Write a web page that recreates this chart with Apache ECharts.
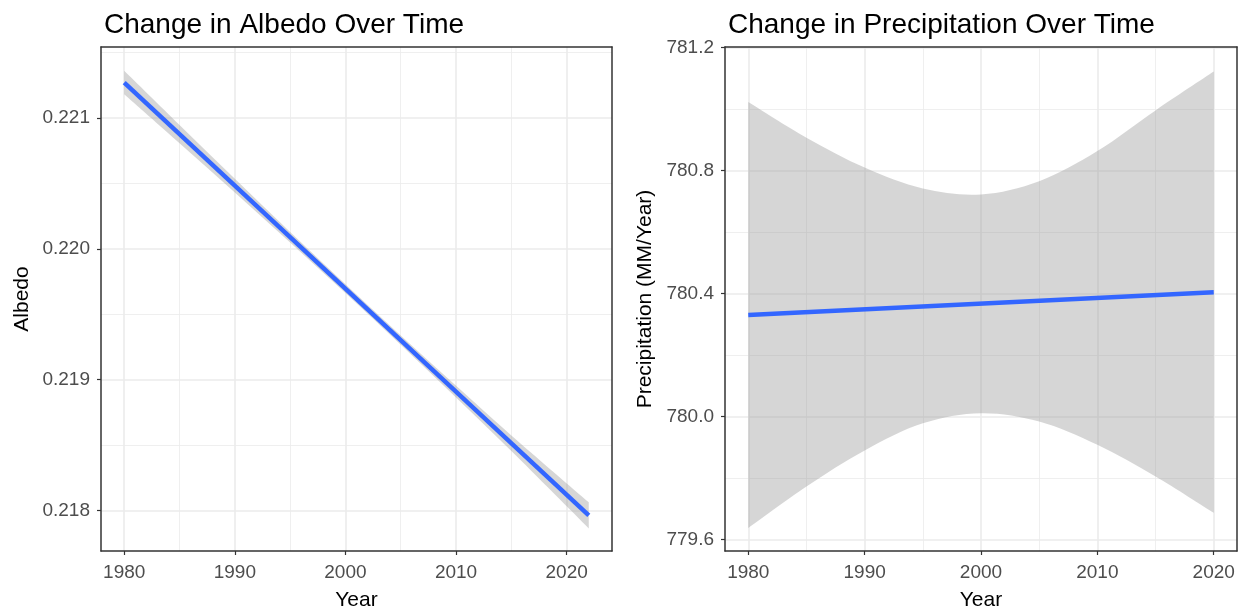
<!DOCTYPE html>
<html>
<head>
<meta charset="utf-8">
<script src="https://cdn.jsdelivr.net/npm/echarts@6/dist/echarts.min.js"></script>
<style>
    html, body { margin: 0; padding: 0; background: #fff; }
    #chart { width: 1244px; height: 609px; }
</style>
</head>
<body>
<div id="chart"></div>
<script>
// left panel: albedo
var albedoLineYears = [1980, 2022];
var albedoLine = [0.221271, 0.217962];
var albedoBandYears = [1980, 1985, 1990, 1995, 2000, 2005, 2010, 2015, 2022];
var albedoUpper = [0.221361, 0.220947, 0.220535, 0.220129, 0.219728, 0.219336, 0.218952, 0.218573, 0.218062];
var albedoLower = [0.221181, 0.220807, 0.220431, 0.220049, 0.219662, 0.219266, 0.218862, 0.218453, 0.217862];
var albedoTicks = [0.218, 0.219, 0.220, 0.221];
var albedoMinor = [0.2185, 0.2195, 0.2205, 0.2215];

// right panel: precipitation
var precipLineYears = [1980, 2020];
var precipLine = [780.330, 780.404];
var precipBandYears = [1980, 1985, 1990, 1995, 2000, 2005, 2010, 2015, 2020];
var precipUpper = [781.022, 780.906, 780.809, 780.741, 780.722, 780.765, 780.863, 780.995, 781.121];
var precipLower = [779.638, 779.773, 779.890, 779.978, 780.011, 779.984, 779.908, 779.805, 779.687];
var precipTicks = [779.6, 780.0, 780.4, 780.8, 781.2];
var precipMinor = [779.8, 780.2, 780.6, 781.0];

var yearTicks = [1980, 1990, 2000, 2010, 2020];
var yearMinor = [1985, 1995, 2005, 2015];

(function () {
    var mychart = echarts.init(document.getElementById('chart'));
    var font = 'Liberation Sans, Arial, sans-serif';
    var gridColor = '#EBEBEB';
    var border = { show: true, lineStyle: { color: '#333', width: 1.5 } };

    function pairs(xs, ys) {
        return xs.map(function (x, i) { return [x, ys[i]]; });
    }

    function mainX(gridIndex, min, max) {
        return {
            type: 'value', gridIndex: gridIndex, min: min, max: max,
            name: 'Year', nameLocation: 'middle', nameGap: 39,
            nameTextStyle: { color: '#000', fontSize: 21, fontFamily: font },
            axisLine: border,
            axisTick: { show: true, length: 4, customValues: yearTicks, lineStyle: { color: '#333', width: 1.2 } },
            axisLabel: {
                customValues: yearTicks, color: '#4D4D4D', fontSize: 19, fontFamily: font, margin: 12,
                formatter: function (v) { return String(v); }
            },
            splitLine: { show: true, lineStyle: { color: gridColor, width: 1.6 } }
        };
    }
    function minorX(gridIndex, min, max) {
        return {
            type: 'value', gridIndex: gridIndex, min: min, max: max, position: 'top',
            axisLine: border,
            axisTick: { show: false, customValues: yearMinor },
            axisLabel: { show: false },
            splitLine: { show: true, lineStyle: { color: gridColor, width: 0.8 } }
        };
    }
    function mainY(gridIndex, min, max, name, ticks, digits, gap) {
        return {
            type: 'value', gridIndex: gridIndex, min: min, max: max,
            name: name, nameLocation: 'middle', nameGap: gap, nameRotate: 90,
            nameTextStyle: { color: '#000', fontSize: 21, fontFamily: font },
            axisLine: border,
            axisTick: { show: true, length: 4, customValues: ticks, lineStyle: { color: '#333', width: 1.2 } },
            axisLabel: {
                customValues: ticks, color: '#4D4D4D', fontSize: 19, fontFamily: font, margin: 11,
                formatter: function (v) { return v.toFixed(digits); }
            },
            splitLine: { show: true, lineStyle: { color: gridColor, width: 1.6 } }
        };
    }
    function minorY(gridIndex, min, max, minor) {
        return {
            type: 'value', gridIndex: gridIndex, min: min, max: max, position: 'right',
            axisLine: border,
            axisTick: { show: false, customValues: minor },
            axisLabel: { show: false },
            splitLine: { show: true, lineStyle: { color: gridColor, width: 0.8 } }
        };
    }

    // catmull-rom curve through pixel points, as svg path commands
    function curve(pts) {
        var d = '';
        for (var i = 0; i < pts.length - 1; i++) {
            var p0 = pts[Math.max(i - 1, 0)], p1 = pts[i], p2 = pts[i + 1], p3 = pts[Math.min(i + 2, pts.length - 1)];
            var c1 = [p1[0] + (p2[0] - p0[0]) / 6, p1[1] + (p2[1] - p0[1]) / 6];
            var c2 = [p2[0] - (p3[0] - p1[0]) / 6, p2[1] - (p3[1] - p1[1]) / 6];
            d += ' C' + c1[0] + ',' + c1[1] + ' ' + c2[0] + ',' + c2[1] + ' ' + p2[0] + ',' + p2[1];
        }
        return d;
    }

    // confidence band, points taken through the axes
    function bandSeries(xi, yi, years, hi, lo) {
        return {
            type: 'custom', xAxisIndex: xi, yAxisIndex: yi, silent: true, z: 2,
            data: years.map(function (y, i) { return [y, lo[i], hi[i]]; }),
            encode: { x: 0, y: [1, 2] },
            renderItem: function (params, api) {
                if (params.dataIndex !== 0) return;
                var top = years.map(function (y, i) { return api.coord([y, hi[i]]); });
                var bottom = years.map(function (y, i) { return api.coord([y, lo[i]]); }).reverse();
                var d = 'M' + top[0][0] + ',' + top[0][1] + curve(top) +
                    ' L' + bottom[0][0] + ',' + bottom[0][1] + curve(bottom) + ' Z';
                return {
                    type: 'path',
                    shape: { pathData: d },
                    style: { fill: 'rgba(153,153,153,0.4)', stroke: 'none' }
                };
            }
        };
    }
    function fitSeries(xi, yi, years, vals) {
        return {
            type: 'line', xAxisIndex: xi, yAxisIndex: yi, data: pairs(years, vals),
            symbol: 'none', lineStyle: { color: '#3366FF', width: 4.5 }, z: 4, silent: true
        };
    }

    var option = {
        animation: false,
        backgroundColor: '#fff',
        title: [
            { text: 'Change in Albedo Over Time', left: 99, top: 6,
              textStyle: { fontSize: 28, fontWeight: 'normal', color: '#000', fontFamily: font } },
            { text: 'Change in Precipitation Over Time', left: 723, top: 6,
              textStyle: { fontSize: 28, fontWeight: 'normal', color: '#000', fontFamily: font } }
        ],
        grid: [
            { left: 101, top: 47, width: 511, height: 504, outerBoundsMode: 'none' },
            { left: 725, top: 47, width: 512, height: 504, outerBoundsMode: 'none' }
        ],
        xAxis: [
            mainX(0, 1977.9, 2024.1),
            minorX(0, 1977.9, 2024.1),
            mainX(1, 1978, 2022),
            minorX(1, 1978, 2022)
        ],
        yAxis: [
            mainY(0, 0.217689, 0.221543, 'Albedo', albedoTicks, 3, 68),
            minorY(0, 0.217689, 0.221543, albedoMinor),
            mainY(1, 779.563, 781.201, 'Precipitation (MM/Year)', precipTicks, 1, 69),
            minorY(1, 779.563, 781.201, precipMinor)
        ],
        series: [
            bandSeries(0, 0, albedoBandYears, albedoUpper, albedoLower),
            fitSeries(0, 0, albedoLineYears, albedoLine),
            bandSeries(2, 2, precipBandYears, precipUpper, precipLower),
            fitSeries(2, 2, precipLineYears, precipLine)
        ]
    };
    mychart.setOption(option);
    window.addEventListener('resize', function () {
        mychart.resize();
    });
})();
</script>
</body>
</html>
